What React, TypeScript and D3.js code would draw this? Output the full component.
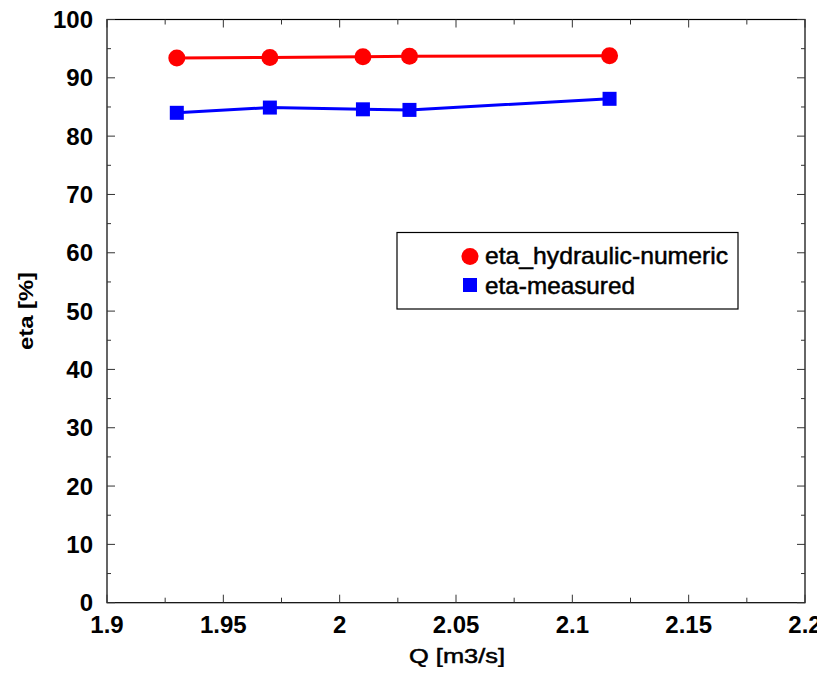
import React, { useEffect, useRef } from 'react';
import * as d3 from 'd3';

const flowRates = [1.93, 1.97, 2.01, 2.03, 2.116];
const etaNumeric = [93.4, 93.5, 93.6, 93.7, 93.8];
const etaMeasured = [84.0, 84.9, 84.6, 84.5, 86.4];
const xTicks = [1.9, 1.95, 2, 2.05, 2.1, 2.15, 2.2];
const yTicks = [0, 10, 20, 30, 40, 50, 60, 70, 80, 90, 100];
const seriesNames = ['eta_hydraulic-numeric', 'eta-measured'];

export default function App() {
  const svgRef = useRef<SVGSVGElement>(null);

  useEffect(() => {
    const svg = d3.select(svgRef.current);
    svg.selectAll('*').remove();

    const left = 107, right = 805, top = 19.5, bottom = 602.7;
    const font = 'Arial, "Liberation Sans", sans-serif';

    const x = d3.scaleLinear().domain([1.9, 2.2]).range([left, right]);
    const y = d3.scaleLinear().domain([0, 100]).range([bottom, top]);

    const g = svg.append('g');

    // frame
    g.append('rect')
      .attr('x', left).attr('y', top)
      .attr('width', right - left).attr('height', bottom - top)
      .attr('fill', 'none').attr('stroke', '#000').attr('stroke-width', 1.2);

    // ticks, inward on every side
    const xMinor = d3.range(1.925, 2.2, 0.05);
    const yMinor = d3.range(5, 100, 10);
    const tickG = g.append('g').attr('stroke', '#333').attr('stroke-width', 1);
    xTicks.forEach(t => {
      tickG.append('line').attr('x1', x(t)).attr('x2', x(t)).attr('y1', bottom).attr('y2', bottom - 8);
      tickG.append('line').attr('x1', x(t)).attr('x2', x(t)).attr('y1', top).attr('y2', top + 8);
    });
    xMinor.forEach(t => {
      tickG.append('line').attr('x1', x(t)).attr('x2', x(t)).attr('y1', bottom).attr('y2', bottom - 5);
      tickG.append('line').attr('x1', x(t)).attr('x2', x(t)).attr('y1', top).attr('y2', top + 5);
    });
    yTicks.forEach(t => {
      tickG.append('line').attr('x1', left).attr('x2', left + 8).attr('y1', y(t)).attr('y2', y(t));
      tickG.append('line').attr('x1', right).attr('x2', right - 8).attr('y1', y(t)).attr('y2', y(t));
    });
    yMinor.forEach(t => {
      tickG.append('line').attr('x1', left).attr('x2', left + 4).attr('y1', y(t)).attr('y2', y(t));
      tickG.append('line').attr('x1', right).attr('x2', right - 4).attr('y1', y(t)).attr('y2', y(t));
    });

    // tick labels
    g.append('g').selectAll('text').data(yTicks).join('text')
      .attr('x', 93).attr('y', d => y(d)).attr('dy', '0.36em')
      .attr('text-anchor', 'end')
      .attr('font-family', font).attr('font-weight', 'bold').attr('font-size', 24)
      .text(d => String(d));

    g.append('g').selectAll('text').data(xTicks).join('text')
      .attr('x', d => x(d)).attr('y', 633)
      .attr('text-anchor', 'middle')
      .attr('font-family', font).attr('font-weight', 'bold').attr('font-size', 24)
      .text(d => String(d));

    // axis titles
    g.append('text')
      .attr('transform', `translate(33, 311) rotate(-90)`)
      .attr('text-anchor', 'middle')
      .attr('font-family', font).attr('font-weight', 'bold').attr('font-size', 21)
      .attr('textLength', 78).attr('lengthAdjust', 'spacingAndGlyphs')
      .text('eta [%]');
    g.append('text')
      .attr('x', 457).attr('y', 663)
      .attr('text-anchor', 'middle')
      .attr('font-family', font).attr('font-size', 21)
      .attr('stroke', '#000').attr('stroke-width', 0.5)
      .attr('textLength', 96).attr('lengthAdjust', 'spacingAndGlyphs')
      .text('Q [m3/s]');

    // series
    const line = d3.line<number>().x((_, i) => x(flowRates[i])).y(d => y(d));

    g.append('path').datum(etaNumeric).attr('d', line)
      .attr('fill', 'none').attr('stroke', '#ff0000').attr('stroke-width', 3);
    g.append('g').selectAll('circle').data(etaNumeric).join('circle')
      .attr('cx', (_, i) => x(flowRates[i])).attr('cy', d => y(d)).attr('r', 8.5)
      .attr('fill', '#ff0000');

    g.append('path').datum(etaMeasured).attr('d', line)
      .attr('fill', 'none').attr('stroke', '#0000ff').attr('stroke-width', 3);
    g.append('g').selectAll('rect').data(etaMeasured).join('rect')
      .attr('x', (_, i) => x(flowRates[i]) - 7).attr('y', d => y(d) - 7)
      .attr('width', 14).attr('height', 14)
      .attr('fill', '#0000ff');

    // legend
    const lg = g.append('g');
    lg.append('rect')
      .attr('x', 397).attr('y', 232.5).attr('width', 341).attr('height', 76.5)
      .attr('fill', '#fff').attr('stroke', '#000').attr('stroke-width', 1.2);
    lg.append('circle').attr('cx', 470).attr('cy', 256.5).attr('r', 8.5).attr('fill', '#ff0000');
    lg.append('rect').attr('x', 463).attr('y', 278).attr('width', 14).attr('height', 14).attr('fill', '#0000ff');
    lg.selectAll('text.lbl').data(seriesNames).join('text')
      .attr('class', 'lbl')
      .attr('x', 485).attr('y', (_, i) => 264 + i * 30)
      .attr('font-family', font).attr('font-size', 24)
      .attr('stroke', '#000').attr('stroke-width', 0.5)
      .attr('textLength', (_, i) => (i === 0 ? 243 : 150))
      .attr('lengthAdjust', 'spacingAndGlyphs')
      .text(d => d);
  }, []);

  return (
    <div style={{ margin: -8 }}>
      <svg ref={svgRef} width={825} height={675} style={{ display: 'block', background: '#fff' }}></svg>
    </div>
  );
}
